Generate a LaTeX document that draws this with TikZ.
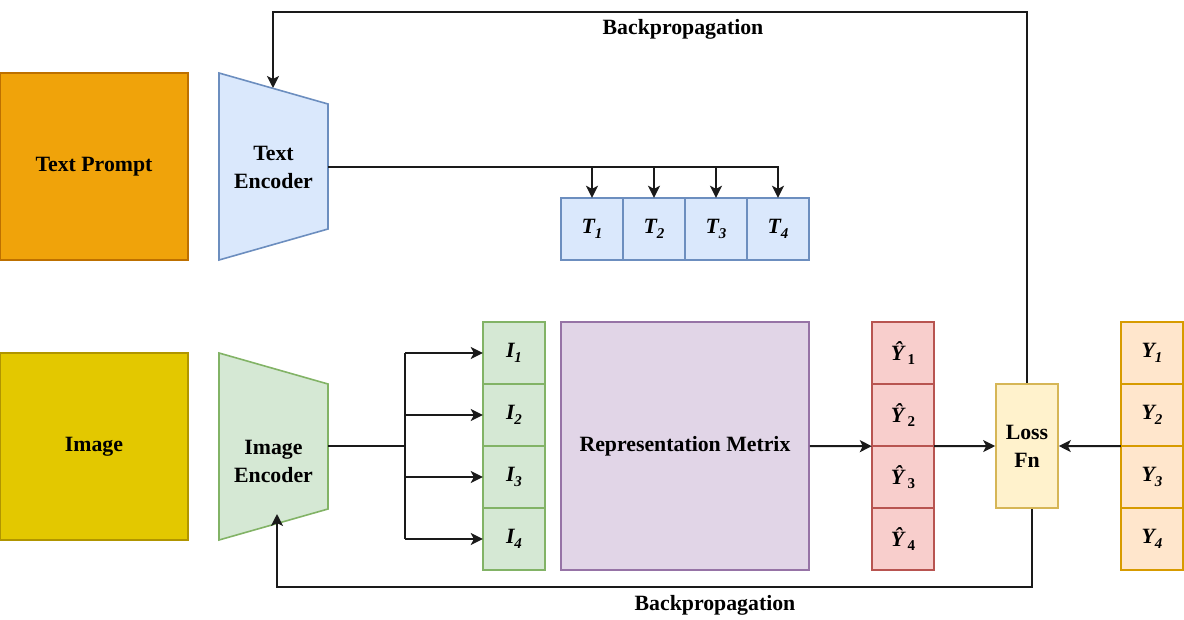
\documentclass[tikz,border=0pt]{standalone}
\usepackage{fontspec}
\setmainfont{Liberation Serif}
\usetikzlibrary{arrows.meta}
\definecolor{lineK}{HTML}{1A1A1A}
\definecolor{orF}{HTML}{F0A30A}\definecolor{orD}{HTML}{BD7000}
\definecolor{yeF}{HTML}{E3C800}\definecolor{yeD}{HTML}{B09500}
\definecolor{blF}{HTML}{DAE8FC}\definecolor{blD}{HTML}{6C8EBF}
\definecolor{grF}{HTML}{D5E8D4}\definecolor{grD}{HTML}{82B366}
\definecolor{puF}{HTML}{E1D5E7}\definecolor{puD}{HTML}{9673A6}
\definecolor{reF}{HTML}{F8CECC}\definecolor{reD}{HTML}{B85450}
\definecolor{lyF}{HTML}{FFF2CC}\definecolor{lyD}{HTML}{D6B656}
\definecolor{loF}{HTML}{FFE6CC}\definecolor{loD}{HTML}{D79B00}
\newcommand\subx[1]{\raisebox{-0.45ex}{\fontsize{15}{15}\selectfont #1}}
\tikzset{
  lbl/.style={font=\fontsize{21.8}{28}\selectfont\bfseries, align=center},
  box/.style={draw, line width=1.6pt, inner sep=0pt, lbl},
  cellbox/.style={inner sep=0pt, lbl, minimum width=62, minimum height=62},
  cellline/.style={line width=1.6pt},
  conn/.style={draw=lineK, line width=2pt},
  arr/.style={conn, -{Stealth[length=12pt,width=12pt,inset=3pt]}},
}
\begin{document}
\begin{tikzpicture}[x=1pt,y=-1pt]
\useasboundingbox (0,0) rectangle (1184,619);

% input boxes
\node[box, fill=orF, draw=orD, minimum width=188, minimum height=187] (tp) at (94,166.5) {Text Prompt};
\node[box, fill=yeF, draw=yeD, minimum width=188, minimum height=187] (img) at (94,446.5) {Image};

% encoders
\draw[line width=1.6pt, fill=blF, draw=blD] (219,73) -- (328,104) -- (328,229) -- (219,260) -- cycle;
\node[lbl] (te) at (273.5,167) {Text\\Encoder};
\coordinate (teout) at (328,167);
\coordinate (tetop) at (273,88);

\draw[line width=1.6pt, fill=grF, draw=grD] (219,353) -- (328,384) -- (328,509) -- (219,540) -- cycle;
\node[lbl] (ie) at (273.5,461) {Image\\Encoder};
\coordinate (ieout) at (328,446);
\coordinate (iebot) at (277,514);

% T cells
\foreach \i/\x in {1/592,2/654,3/716,4/778}
  \node[cellbox, fill=blF] (t\i) at (\x,229) {\itshape T\subx{\i}};
\foreach \i in {1,2,3,4}
  \draw[cellline, draw=blD] (t\i.south west) rectangle (t\i.north east);

% I cells
\foreach \i/\y in {1/353,2/415,3/477,4/539}
  \node[cellbox, fill=grF] (i\i) at (514,\y) {\itshape I\subx{\i}};
\foreach \i in {1,2,3,4}
  \draw[cellline, draw=grD] (i\i.south west) rectangle (i\i.north east);

% representation
\node[box, fill=puF, draw=puD, minimum width=248, minimum height=248] (rep) at (685,446) {Representation Metrix};

% Y hat cells
\foreach \i/\y in {1/353,2/415,3/477,4/539}
  \node[cellbox, fill=reF] (yh\i) at (903,\y) {\itshape Ŷ\,\upshape\subx{\i}};
\foreach \i in {1,2,3,4}
  \draw[cellline, draw=reD] (yh\i.south west) rectangle (yh\i.north east);

% loss
\node[box, fill=lyF, draw=lyD, minimum width=62, minimum height=124] (loss) at (1027,446) {Loss\\Fn};

% Y cells
\foreach \i/\y in {1/353,2/415,3/477,4/539}
  \node[cellbox, fill=loF] (y\i) at (1152,\y) {\itshape Y\subx{\i}};
\foreach \i in {1,2,3,4}
  \draw[cellline, draw=loD] (y\i.south west) rectangle (y\i.north east);

% text encoder fan-out
\draw[arr] (teout) -| (t4.north);
\foreach \i in {1,2,3}
  \draw[arr] (t\i.north |- teout) -- (t\i.north);

% image encoder fan-out
\coordinate (split) at (405,446);
\draw[conn] (ieout) -- (split);
\draw[conn] (i1.west -| split) -- (i4.west -| split);
\foreach \i in {1,2,3,4}
  \draw[arr] (i\i.west -| split) -- (i\i.west);

% to Y hat and loss
\draw[arr] (rep.east) -- (yh2.south west);
\draw[arr] (yh2.south east) -- (loss.west);
\draw[arr] (y2.south west) -- (loss.east);

% backpropagation top
\coordinate (toprow) at (0,12);
\draw[arr] (loss.north) -- (loss.north |- toprow) -- (tetop |- toprow) -- (tetop);
\node[lbl, anchor=north] (bp1) at (683,16) {Backpropagation};

% backpropagation bottom
\coordinate (botrow) at (0,587);
\coordinate (lossb) at ([xshift=5pt]loss.south);
\draw[arr] (lossb) -- (lossb |- botrow) -- (iebot |- botrow) -- (iebot);
\node[lbl, anchor=north] (bp2) at (715,592) {Backpropagation};
\end{tikzpicture}
\end{document}
